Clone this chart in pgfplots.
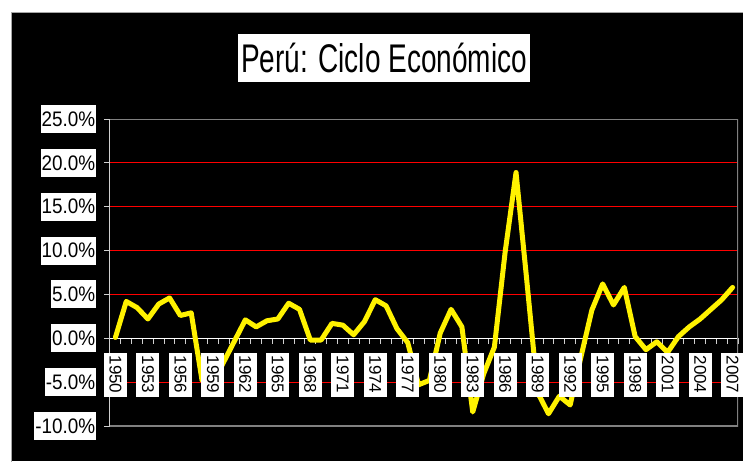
\documentclass[border=0pt]{standalone}
\usepackage{pgfplots}
\usepackage{pgfplotstable}
\pgfplotsset{compat=1.18}
\usepackage{fontspec}
\setmainfont{Liberation Sans}
\definecolor{frameg}{HTML}{808080}
\definecolor{axisg}{HTML}{D0D0D0}
\pgfplotstableread{
idx year val
0 1950 0.1
1 1951 4.2
2 1952 3.5
3 1953 2.2
4 1954 3.9
5 1955 4.6
6 1956 2.6
7 1957 2.9
8 1958 -4.8
9 1959 -5.2
10 1960 -2.7
11 1961 -0.3
12 1962 2.1
13 1963 1.3
14 1964 2.0
15 1965 2.2
16 1966 4.0
17 1967 3.3
18 1968 -0.2
19 1969 -0.2
20 1970 1.7
21 1971 1.5
22 1972 0.4
23 1973 1.9
24 1974 4.4
25 1975 3.7
26 1976 1.1
27 1977 -0.5
28 1978 -5.3
29 1979 -4.8
30 1980 0.6
31 1981 3.3
32 1982 1.3
33 1983 -8.4
34 1984 -4.1
35 1985 -1.0
36 1986 9.9
37 1987 18.9
38 1988 6.5
39 1989 -6.2
40 1990 -8.6
41 1991 -6.6
42 1992 -7.6
43 1993 -2.1
44 1994 3.2
45 1995 6.2
46 1996 3.8
47 1997 5.8
48 1998 0.2
49 1999 -1.3
50 2000 -0.4
51 2001 -1.6
52 2002 0.2
53 2003 1.3
54 2004 2.2
55 2005 3.3
56 2006 4.4
57 2007 5.8
}\datatable
\begin{document}
\begin{tikzpicture}[x=1pt,y=1pt]
\path[use as bounding box] (-110,-35) rectangle (633,426);
\fill[black] (-99,-35) rectangle (633,414);
\draw[gray!70, line width=0.8pt] (-99,-36) -- (-99,414) -- (634,414);
\begin{axis}[at={(0,0)}, anchor=south west, scale only axis,
  width=628pt, height=307pt,
  xmin=-0.5, xmax=57.5, ymin=-10, ymax=25,
  axis x line=middle, axis y line=left, axis line style={-},
  x axis line style={white, line width=1pt},
  y axis line style={axisg, line width=1pt},
  hide obscured x ticks=false, hide obscured y ticks=false,
  xtick={-0.5,0.5,...,57.5}, xticklabels={}, xtick align=outside,
  x tick style={axisg, line width=1pt},
  major tick length=5.5pt,
  ytick={-10,-5,...,25}, ytick align=outside,
  y tick style={axisg, line width=1pt},
  yticklabels={\scalebox{0.9}[1]{-10.0\%},\scalebox{0.9}[1]{-5.0\%},\scalebox{0.9}[1]{0.0\%},\scalebox{0.9}[1]{5.0\%},\scalebox{0.9}[1]{10.0\%},\scalebox{0.9}[1]{15.0\%},\scalebox{0.9}[1]{20.0\%},\scalebox{0.9}[1]{25.0\%}},
  yticklabel style={font=\fontsize{21}{21}\selectfont, fill=white, text=black,
    inner xsep=1pt, inner ysep=0pt, minimum height=28pt, anchor=east, xshift=-8pt},
  ymajorgrids, y grid style={red, line width=1pt},
]
\draw[frameg, line width=1.5pt] (rel axis cs:0,1) -- (rel axis cs:1,1) -- (rel axis cs:1,0) -- (rel axis cs:0,0);
\addplot[color=yellow, line width=5pt, line join=round, line cap=round] table[x=idx, y=val] {\datatable};
\end{axis}
\begin{axis}[at={(0,0)}, anchor=south west, scale only axis,
  width=628pt, height=307pt,
  xmin=-0.5, xmax=57.5, ymin=-8.4, ymax=26.6,
  hide y axis, axis x line=middle, x axis line style={draw=none},
  hide obscured x ticks=false,
  xtick={0,3,...,57},
  xticklabels={1950,1953,1956,1959,1962,1965,1968,1971,1974,1977,1980,1983,1986,1989,1992,1995,1998,2001,2004,2007},
  major tick length=0pt, x tick style={draw=none},
  xticklabel style={rotate=-90, anchor=west, fill=white, text=black, inner sep=0pt,
    minimum width=44pt, minimum height=23pt, font=\fontsize{17}{17}\selectfont},
]
\end{axis}
\node[fill=white, text=black, inner xsep=3pt, inner ysep=0pt, minimum height=48pt] at (274,368)
  {\scalebox{0.70}[1]{\fontsize{40}{40}\selectfont Perú: Ciclo Económico}};
\end{tikzpicture}
\end{document}
